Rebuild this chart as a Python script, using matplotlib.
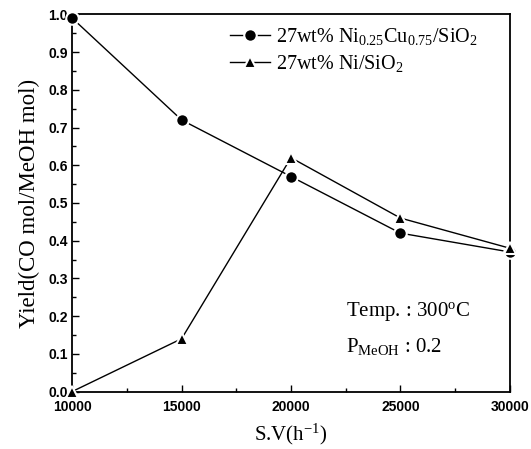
import numpy as np
from matplotlib import pyplot as plt
from matplotlib.ticker import MultipleLocator

# space velocity (h^-1) and CO yield for the two catalysts
sv = [10000, 15000, 20000, 25000, 30000]
yield_nicu = [0.99, 0.72, 0.57, 0.42, 0.37]
yield_ni = [0.0, 0.14, 0.62, 0.46, 0.38]

label_nicu = r'27wt% Ni$_{0.25}$Cu$_{0.75}$/SiO$_2$'
label_ni = r'27wt% Ni/SiO$_2$'

plt.rcParams['mathtext.fontset'] = 'custom'
plt.rcParams['mathtext.rm'] = 'Liberation Serif'
plt.rcParams['mathtext.it'] = 'Liberation Serif:italic'

fig = plt.figure(figsize=(5.31, 4.49), dpi=100)
ax = fig.add_axes([0.136, 0.128, 0.824, 0.84])

ax.plot(sv, yield_nicu, '-', color='black', lw=1.0, marker='o', ms=9,
        mfc='black', mec='white', mew=1.5, label=label_nicu, clip_on=False, zorder=3)
ax.plot(sv, yield_ni, '-', color='black', lw=1.0, marker='^', ms=9,
        mfc='black', mec='white', mew=1.5, label=label_ni, clip_on=False, zorder=3)

ax.set_xlim(10000, 30000)
ax.set_ylim(0.0, 1.0)
ax.xaxis.set_major_locator(MultipleLocator(5000))
ax.xaxis.set_minor_locator(MultipleLocator(2500))
ax.yaxis.set_major_locator(MultipleLocator(0.1))
ax.yaxis.set_minor_locator(MultipleLocator(0.05))
ax.set_yticks(np.arange(0, 1.01, 0.1))
ax.set_yticklabels(['%.1f' % v for v in np.arange(0, 1.01, 0.1)])

ax.tick_params(which='both', direction='in', top=False, right=False,
               labelsize=10, width=1.0)
ax.tick_params(which='major', length=5)
ax.tick_params(which='minor', length=3)
ax.tick_params(axis='x', pad=6)
ax.tick_params(axis='y', pad=3)
for lbl in ax.get_xticklabels() + ax.get_yticklabels():
    lbl.set_fontfamily('Liberation Sans')
    lbl.set_fontweight('bold')
for sp in ax.spines.values():
    sp.set_linewidth(1.3)

ax.set_xlabel(r'S.V(h$^{\mathregular{-1}}$)', fontsize=15, family='Liberation Serif', labelpad=6)
ax.set_ylabel('Yield(CO mol/MeOH mol)', fontsize=16.5, family='Liberation Serif', labelpad=6)

leg = ax.legend(loc='upper left', bbox_to_anchor=(0.36, 0.97), frameon=False,
                prop={'family': 'Liberation Serif', 'size': 14.5},
                handlelength=2.0, handletextpad=0.3, labelspacing=0.3,
                borderpad=0, borderaxespad=0)

ax.text(0.625, 0.2, 'Temp. : 300$^{\\mathregular{o}}$C', transform=ax.transAxes,
        fontsize=15, family='Liberation Serif')
ax.text(0.625, 0.105, r'P$_{\mathregular{MeOH}}$ : 0.2', transform=ax.transAxes,
        fontsize=15, family='Liberation Serif')

fig.savefig('out.png', dpi=100)
